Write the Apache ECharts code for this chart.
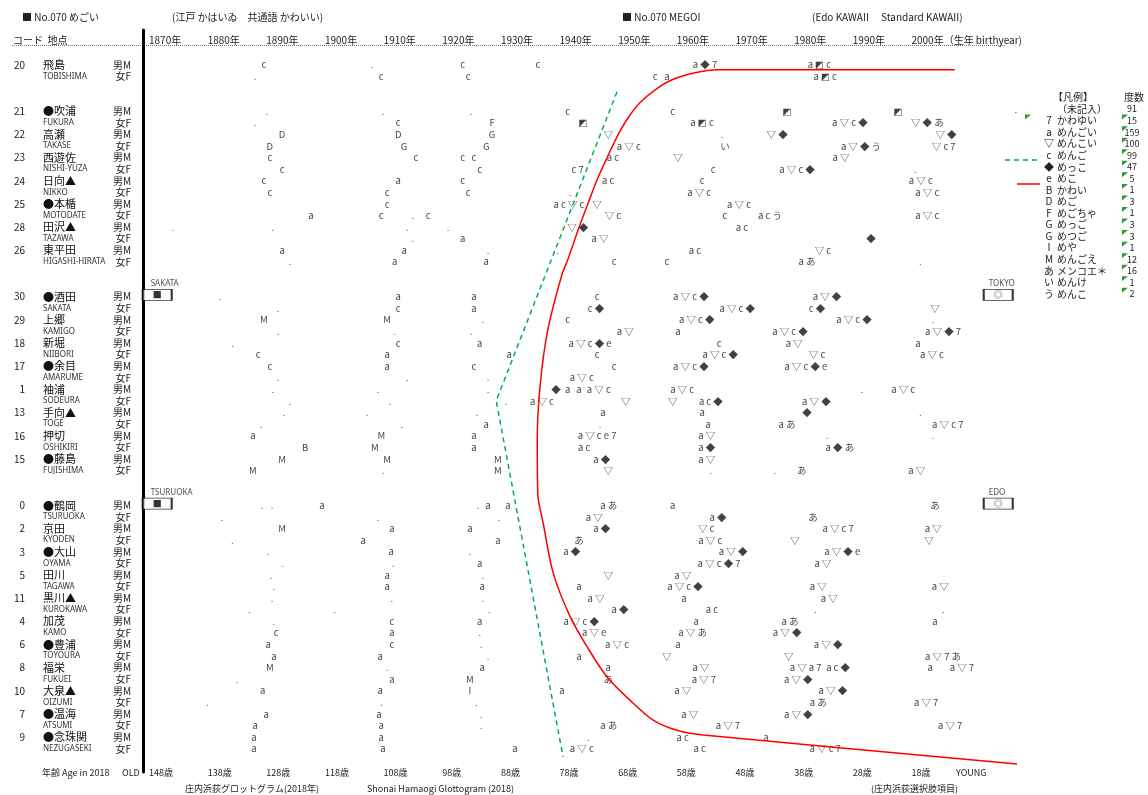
<!DOCTYPE html>
<html><head><meta charset="utf-8">
<script src="https://cdn.jsdelivr.net/npm/echarts@6/dist/echarts.min.js"></script>
<style>html,body{margin:0;padding:0;background:#fff}#c{width:1148px;height:795px}</style>
</head><body><div id="c"></div>
<script>
// ---------------- DATA ----------------
const siteCodes = [20,21,22,23,24,25,28,26,30,29,18,17,1,13,16,15,0,2,3,5,11,4,6,8,10,7,9];
const siteNames = ['飛島','●吹浦','高瀬','西遊佐','日向▲','●本楯','田沢▲','東平田','●酒田','上郷','新堀','●余目','袖浦','手向▲','押切','●藤島','●鶴岡','京田','●大山','田川','黒川▲','加茂','●豊浦','福栄','大泉▲','●温海','●念珠関'];
const siteRomaji = ['TOBISHIMA','FUKURA','TAKASE','NISHI-YUZA','NIKKO','MOTODATE','TAZAWA','HIGASHI-HIRATA','SAKATA','KAMIGO','NIIBORI','AMARUME','SODEURA','TOGE','OSHIKIRI','FUJISHIMA','TSURUOKA','KYODEN','OYAMA','TAGAWA','KUROKAWA','KAMO','TOYOURA','FUKUEI','OIZUMI','ATSUMI','NEZUGASEKI'];
const blockStarts = [21,30,0];           // sites that begin a new block
const sexLabels = {M:'男M', F:'女F'};
const yearTicks = [1870,1880,1890,1900,1910,1920,1930,1940,1950,1960,1970,1980,1990,2000];
const surveyYear = 2018;

// [site code, sex, birth year, answer symbols]
const responses = [
[20,'M',1889.6,'c'],[20,'M',1908.0,'.'],[20,'M',1923.5,'c'],[20,'M',1936.3,'c'],[20,'M',1964.8,'a◆7'],[20,'M',1984.3,'a◩c'],
[20,'F',1888.1,'.'],[20,'F',1909.6,'c'],[20,'F',1924.4,'c'],[20,'F',1956.3,'c'],[20,'F',1958.3,'a'],[20,'F',1985.3,'a◩c'],
[21,'M',1890.1,'.'],[21,'M',1909.9,'.'],[21,'M',1924.9,'.'],[21,'M',1941.4,'c'],[21,'M',1959.3,'c'],[21,'M',1978.8,'◩'],[21,'M',1997.7,'◩'],
[21,'F',1888.1,'.'],[21,'F',1912.5,'c'],[21,'F',1928.5,'F'],[21,'F',1944.0,'◩'],[21,'F',1964.3,'a◩c'],[21,'F',1989.5,'a▽c◆'],[21,'F',2002.7,'▽◆あ'],
[22,'M',1892.7,'D'],[22,'M',1912.5,'D'],[22,'M',1928.5,'G'],[22,'M',1948.3,'▽'],[22,'M',1967.7,'.'],[22,'M',1977.1,'▽◆'],[22,'M',2005.9,'▽◆'],
[22,'F',1890.6,'D'],[22,'F',1913.5,'G'],[22,'F',1927.5,'G'],[22,'F',1951.8,'a▽c'],[22,'F',1968.2,'い'],[22,'F',1991.4,'a▽◆う'],[22,'F',2005.5,'▽c7'],
[23,'M',1890.6,'c'],[23,'M',1915.5,'c'],[23,'M',1923.5,'c'],[23,'M',1925.4,'c'],[23,'M',1949.1,'ac'],[23,'M',1960.2,'▽'],[23,'M',1988.0,'a▽'],
[23,'F',1892.7,'c'],[23,'F',1926.4,'c'],[23,'F',1943.1,'c7'],[23,'F',1966.2,'c'],[23,'F',1980.5,'a▽c◆'],[23,'F',2000.6,'.'],
[24,'M',1889.6,'c'],[24,'M',1912.5,'a'],[24,'M',1923.5,'c'],[24,'M',1948.3,'ac'],[24,'M',1964.3,'c'],[24,'M',2001.6,'a▽c'],
[24,'F',1890.6,'c'],[24,'F',1910.6,'c'],[24,'F',1924.4,'c'],[24,'F',1941.8,'.'],[24,'F',1963.8,'a▽c'],[24,'F',2002.7,'a▽c'],
[25,'M',1910.6,'c'],[25,'M',1941.6,'ac▽c'],[25,'M',1946.4,'▽'],[25,'M',1970.6,'a▽c'],
[25,'F',1897.6,'a'],[25,'F',1909.6,'c'],[25,'F',1915.0,'.'],[25,'F',1917.6,'c'],[25,'F',1949.1,'▽c'],[25,'F',1968.2,'c'],[25,'F',1975.9,'acう'],[25,'F',2002.7,'a▽c'],
[28,'M',1874.1,'.'],[28,'M',1891.1,'.'],[28,'M',1914.0,'.'],[28,'M',1921.0,'.'],[28,'M',1943.1,'▽◆'],[28,'M',1971.1,'ac'],
[28,'F',1915.0,'.'],[28,'F',1923.5,'a'],[28,'F',1946.9,'a▽'],[28,'F',1993.1,'◆'],
[26,'M',1892.7,'a'],[26,'M',1913.5,'a'],[26,'M',1927.8,'.'],[26,'M',1939.7,'.'],[26,'M',1963.1,'ac'],[26,'M',1984.9,'▽c'],
[26,'F',1894.0,'.'],[26,'F',1911.9,'a'],[26,'F',1927.5,'a'],[26,'F',1949.3,'c'],[26,'F',1958.3,'c'],[26,'F',1982.2,'aあ'],[26,'F',2001.5,'.'],

[30,'M',1882.1,'.'],[30,'M',1912.5,'a'],[30,'M',1925.4,'a'],[30,'M',1946.4,'c'],[30,'M',1962.4,'a▽c◆'],[30,'M',1985.6,'a▽◆'],
[30,'F',1892.0,'.'],[30,'F',1912.5,'c'],[30,'F',1925.4,'a'],[30,'F',1946.2,'c◆'],[30,'F',1970.3,'a▽c◆'],[30,'F',1983.9,'c◆'],[30,'F',2004.0,'▽'],
[29,'M',1889.6,'M'],[29,'M',1910.6,'M'],[29,'M',1926.9,'.'],[29,'M',1941.4,'c'],[29,'M',1963.4,'a▽c◆'],[29,'M',1990.2,'a▽c◆'],[29,'M',2003.7,'.'],
[29,'F',1892.0,'.'],[29,'F',1911.9,'.'],[29,'F',1924.9,'.'],[29,'F',1951.2,'a▽'],[29,'F',1960.2,'a'],[29,'F',1979.3,'a▽c◆'],[29,'F',2005.4,'a▽◆7'],
[18,'M',1884.3,'.'],[18,'M',1912.5,'c'],[18,'M',1926.4,'a'],[18,'M',1945.2,'a▽c◆e'],[18,'M',1967.2,'c'],[18,'M',1980.0,'a▽'],[18,'M',2001.1,'a'],
[18,'F',1888.6,'c'],[18,'F',1910.6,'a'],[18,'F',1931.4,'a'],[18,'F',1946.4,'c'],[18,'F',1967.4,'a▽c◆'],[18,'F',1983.9,'▽c'],[18,'F',2003.5,'a▽c'],
[17,'M',1890.6,'c'],[17,'M',1910.6,'a'],[17,'M',1925.4,'c'],[17,'M',1949.3,'c'],[17,'M',1962.4,'a▽c◆'],[17,'M',1982.0,'a▽c◆e'],
[17,'F',1892.0,'.'],[17,'F',1914.0,'.'],[17,'F',1927.8,'.'],[17,'F',1943.8,'a▽c'],
[1,'M',1891.1,'.'],[1,'M',1909.0,'.'],[1,'M',1927.8,'.'],[1,'M',1939.4,'◆'],[1,'M',1941.4,'a'],[1,'M',1943.3,'a'],[1,'M',1946.7,'a▽c'],[1,'M',1960.9,'a▽c'],[1,'M',1991.6,'.'],[1,'M',1998.6,'a▽c'],
[1,'F',1894.0,'.'],[1,'F',1911.1,'.'],[1,'F',1930.9,'.'],[1,'F',1937.0,'a▽c'],[1,'F',1951.3,'▽'],[1,'F',1959.3,'▽'],[1,'F',1965.8,'ac◆'],[1,'F',1983.8,'a▽◆'],
[13,'M',1893.0,'.'],[13,'M',1907.2,'.'],[13,'M',1925.9,'.'],[13,'M',1947.4,'a'],[13,'M',1964.3,'a'],[13,'M',1982.2,'◆'],[13,'M',2001.5,'.'],
[13,'F',1889.1,'.'],[13,'F',1913.1,'.'],[13,'F',1927.5,'a'],[13,'F',1946.9,'.'],[13,'F',1965.3,'a'],[13,'F',1978.8,'aあ'],[13,'F',2006.2,'a▽c7'],
[16,'M',1887.7,'a'],[16,'M',1909.6,'M'],[16,'M',1925.4,'a'],[16,'M',1946.4,'a▽ce7'],[16,'M',1965.1,'a▽'],[16,'M',1985.6,'.'],[16,'M',2003.7,'.'],
[16,'F',1896.6,'B'],[16,'F',1908.5,'M'],[16,'F',1925.4,'a'],[16,'F',1944.2,'ac'],[16,'F',1965.1,'a◆'],[16,'F',1987.8,'a◆あ'],
[15,'M',1892.7,'M'],[15,'M',1910.6,'M'],[15,'M',1929.5,'M'],[15,'M',1947.2,'a◆'],[15,'M',1965.1,'a▽'],
[15,'F',1887.7,'M'],[15,'F',1909.9,'.'],[15,'F',1929.5,'M'],[15,'F',1948.3,'▽'],[15,'F',1965.8,'.'],[15,'F',1976.7,'.'],[15,'F',1981.3,'あ'],[15,'F',2000.9,'a▽'],

[0,'M',1889.3,'.'],[0,'M',1891.0,'.'],[0,'M',1899.5,'a'],[0,'M',1926.1,'.'],[0,'M',1927.8,'a'],[0,'M',1931.2,'a'],[0,'M',1948.4,'aあ'],[0,'M',1959.3,'a'],[0,'M',2004.0,'あ'],
[0,'F',1882.4,'.'],[0,'F',1909.0,'.'],[0,'F',1929.7,'.'],[0,'F',1945.9,'a▽'],[0,'F',1967.0,'a◆'],[0,'F',1983.2,'あ'],
[2,'M',1892.7,'M'],[2,'M',1911.4,'a'],[2,'M',1924.7,'a'],[2,'M',1947.2,'a◆'],[2,'M',1965.0,'▽c'],[2,'M',1987.5,'a▽c7'],[2,'M',2003.7,'a▽'],
[2,'F',1884.2,'.'],[2,'F',1906.5,'a'],[2,'F',1929.5,'a'],[2,'F',1943.3,'あ'],[2,'F',1965.7,'a▽c'],[2,'F',1980.1,'▽'],[2,'F',2003.0,'▽'],
[3,'M',1890.3,'.'],[3,'M',1911.3,'a'],[3,'M',1924.7,'.'],[3,'M',1942.1,'a◆'],[3,'M',1969.6,'a▽◆'],[3,'M',1988.2,'a▽◆e'],
[3,'F',1892.8,'.'],[3,'F',1911.6,'.'],[3,'F',1926.4,'a'],[3,'F',1967.2,'a▽c◆7'],[3,'F',1984.9,'a▽'],
[5,'M',1890.8,'.'],[5,'M',1910.6,'a'],[5,'M',1926.9,'.'],[5,'M',1948.3,'▽'],[5,'M',1961.0,'a▽'],
[5,'F',1891.3,'.'],[5,'F',1910.6,'a'],[5,'F',1926.8,'a'],[5,'F',1943.3,'a'],[5,'F',1961.4,'a▽c◆'],[5,'F',1984.1,'a▽'],[5,'F',2004.9,'a▽'],
[11,'M',1891.0,'.'],[11,'M',1911.4,'.'],[11,'M',1926.9,'.'],[11,'M',1946.2,'a▽'],[11,'M',1961.2,'a'],[11,'M',1986.0,'a▽'],
[11,'F',1887.1,'.'],[11,'F',1901.7,'.'],[11,'F',1928.0,'.'],[11,'F',1950.3,'a◆'],[11,'F',1966.0,'ac'],[11,'F',1983.6,'.'],[11,'F',2005.4,'.'],
[4,'M',1891.3,'.'],[4,'M',1911.4,'c'],[4,'M',1926.4,'a'],[4,'M',1943.7,'a▽c◆'],[4,'M',1963.3,'a'],[4,'M',1979.3,'aあ'],[4,'M',2004.0,'a'],
[4,'F',1891.7,'c'],[4,'F',1911.4,'a'],[4,'F',1926.4,'.'],[4,'F',1945.9,'a▽e'],[4,'F',1962.7,'a▽あ'],[4,'F',1978.8,'a▽◆'],
[6,'M',1890.3,'a'],[6,'M',1911.4,'c'],[6,'M',1926.6,'.'],[6,'M',1949.8,'a▽c'],[6,'M',1960.2,'a'],[6,'M',1985.8,'a▽◆'],
[6,'F',1891.3,'a'],[6,'F',1909.4,'a'],[6,'F',1927.8,'.'],[6,'F',1943.3,'a'],[6,'F',1958.3,'▽'],[6,'F',1979.1,'▽'],[6,'F',2005.4,'a▽7あ'],
[8,'M',1890.6,'M'],[8,'M',1910.6,'.'],[8,'M',1926.8,'a'],[8,'M',1948.3,'a'],[8,'M',1964.1,'a▽'],[8,'M',1980.7,'a▽'],[8,'M',1983.6,'a7'],[8,'M',1987.5,'ac◆'],[8,'M',2003.2,'a'],[8,'M',2008.6,'a▽7'],
[8,'F',1885.0,'.'],[8,'F',1911.4,'a'],[8,'F',1924.7,'M'],[8,'F',1948.3,'あ'],[8,'F',1964.6,'a▽7'],[8,'F',1980.7,'a▽◆'],
[10,'M',1889.4,'a'],[10,'M',1909.4,'a'],[10,'M',1924.7,'I'],[10,'M',1940.4,'a'],[10,'M',1961.0,'a▽'],[10,'M',1986.6,'a▽◆'],
[10,'F',1880.0,'.'],[10,'F',1909.6,'.'],[10,'F',1925.8,'.'],[10,'F',1984.1,'aあ'],[10,'F',2002.5,'a▽7'],
[7,'M',1890.0,'a'],[7,'M',1909.2,'a'],[7,'M',1926.6,'.'],[7,'M',1962.2,'a▽'],[7,'M',1980.7,'a▽◆'],
[7,'F',1888.1,'a'],[7,'F',1909.6,'a'],[7,'F',1926.6,'.'],[7,'F',1948.4,'aあ'],[7,'F',1968.7,'a▽7'],[7,'F',2006.6,'a▽7'],
[9,'M',1887.9,'a'],[9,'M',1909.6,'a'],[9,'M',1944.9,'.'],[9,'M',1961.0,'ac'],[9,'M',1975.2,'a'],
[9,'F',1887.9,'a'],[9,'F',1909.9,'a'],[9,'F',1932.4,'a'],[9,'F',1943.8,'a▽c'],[9,'F',1963.9,'ac'],[9,'F',1985.3,'a▽c7']
];

// isogloss lines: [birth year, row position]
const greenIsogloss = [[1949.8,2.33],[1929.2,28.98],[1940.6,59.69]];
const redIsogloss = [[2007.4,0.43],[1967.0,0.43],[1963.1,0.69],[1959.2,1.29],[1956.3,2.16],[1953.7,3.28],[1951.7,4.57],[1949.8,6.21],[1948.1,8.02],[1946.4,9.92],[1944.9,11.9],[1943.3,14.06],[1941.4,16.82],[1940.4,18.11],[1938.0,22.86],[1936.7,27.6],[1936.2,32.34],[1936.3,37.09],[1937.2,39.5],[1938.9,43.8],[1941.8,47.6],[1944.7,50.2],[1948.1,52.8],[1952.0,54.8],[1955.9,56.5],[1960.0,57.4],[1964.5,57.8],[2018,60.3]];

// reference boxes
const refNames = ['SAKATA','TSURUOKA','TOKYO','EDO'];
const refMarks = ['■','■','◎','◎'];
const refSites = [30,0,30,0];

// legend
const legendSymbols = ['.','7','a','▽','c','◆','e','B','D','F','G','G','I','M','あ','い','う'];
const legendNames = ['（未記入）','かわゆい','めんごい','めんこい','めんご','めっこ','めこ','かわい','めご','めごちゃ','めっご','めつご','めや','めんごえ','メンコエ＊','めんけ','めんこ'];
const legendCounts = [91,15,159,100,99,47,5,1,3,1,3,3,1,12,16,1,2];

// ---------------- LAYOUT ----------------
const FONT = '"Noto Sans CJK JP","DejaVu Sans",sans-serif';
const GAP = 2;
const slotOf = {};
const slotInfo = {};
(function(){
  let s = 0;
  siteCodes.forEach((c,i)=>{
    if (i>0 && blockStarts.includes(c)) s += GAP;
    slotOf[c] = {M:s, F:s+1};
    slotInfo[s]   = {code:String(c), name:siteNames[i], sex:'M'};
    slotInfo[s+1] = {code:'', name:siteRomaji[i], sex:'F'};
    s += 2;
  });
})();

const spaced = t => Array.from(t).join(' ');
const respData = responses.map(r => [r[2], slotOf[r[0]][r[1]], r[3]]);

const refBoxX = [1871.4,1871.4,2014.8,2014.8];
const refTextX = [1870.2,1870.2,2013.1,2013.1];
const boxData = refNames.map((n,i)=>[refBoxX[i], slotOf[refSites[i]].M - 0.15, refMarks[i]]);
const boxNameData = refNames.map((n,i)=>[refTextX[i], slotOf[refSites[i]].M - 1.1, n]);

const yBase = {type:'value', inverse:true, min:-3, max:61, interval:1, position:'left',
  axisTick:{show:false}, splitLine:{show:false}, axisLine:{show:false}};

// graphics (titles, captions, legend)
const graphics = [];
const T = (x,y,text,opt={}) => graphics.push({type:'text', x, y, silent:true,
  style:Object.assign({text, font:'10px '+FONT, fill:'#222', textVerticalAlign:'middle', textAlign:'left'}, opt)});
T(22,17,'■ No.070 めごい');
T(172,17,'(江戸 かはいゐ　共通語 かわいい)');
T(622,17,'■ No.070 MEGOI');
T(812,17,'(Edo KAWAII　 Standard KAWAII)');
T(13,40,'コード  地点');
graphics.push({type:'line', silent:true, shape:{x1:12,y1:45.5,x2:1006,y2:45.5}, style:{stroke:'#777', lineWidth:1, lineDash:[1,1]}});
T(42,773,'年齢 Age in 2018', {font:'9px '+FONT});
T(122,773,'OLD', {font:'9px '+FONT});
T(956,773,'YOUNG', {font:'9px '+FONT});
T(185,789,'庄内浜荻グロットグラム(2018年)', {font:'9px '+FONT});
T(367,789,'Shonai Hamaogi Glottogram (2018)', {font:'9px '+FONT});
T(871,789,'(庄内浜荻選択肢項目)', {font:'9px '+FONT});
const LY0 = 97.5, LDY = 11.55;
T(1053,LY0,'【凡例】');
T(1124,LY0,'度数');
legendSymbols.forEach((s,i)=>{
  const y = LY0 + LDY*(i+1);
  T(i===0?1016:1049, y, s, {textAlign:'center'});
  T(1057, y, legendNames[i]);
  T(1132, y, String(legendCounts[i]), {textAlign:'center', font:'9px '+FONT});
  if (i>0) graphics.push({type:'polygon', silent:true, shape:{points:[[1122,y-6],[1128,y-6],[1122,y-1]]}, style:{fill:'#2f9a3a'}});
});
graphics.push({type:'polygon', silent:true, shape:{points:[[1025,LY0+LDY*2-6],[1031,LY0+LDY*2-6],[1025,LY0+LDY*2-1]]}, style:{fill:'#2f9a3a'}});
graphics.push({type:'line', silent:true, shape:{x1:1005,y1:160,x2:1040,y2:160}, style:{stroke:'#00b050', lineWidth:1.5, lineDash:[5,4]}});
graphics.push({type:'line', silent:true, shape:{x1:1017,y1:184,x2:1040,y2:184}, style:{stroke:'#ff0000', lineWidth:1.5}});

const option = {
  animation:false,
  backgroundColor:'#fff',
  textStyle:{fontFamily:FONT},
  grid:{left:149, right:131, top:30, bottom:23},
  xAxis:[
    {type:'value', position:'top', min:1870, max:2018, interval:10,
     axisLine:{show:false}, axisTick:{show:false}, splitLine:{show:false},
     axisLabel:{inside:true, margin:10, align:'left', verticalAlign:'middle', fontSize:10, color:'#222', fontFamily:FONT,
       formatter:v => yearTicks.includes(v) ? (v===2000 ? '2000年（生年 birthyear)' : v+'年') : ''}},
    {type:'value', position:'bottom', min:1870, max:2018, interval:10,
     axisLine:{show:false}, axisTick:{show:false}, splitLine:{show:false},
     axisLabel:{margin:1, align:'left', verticalAlign:'middle', fontSize:9, color:'#222', fontFamily:FONT,
       formatter:v => yearTicks.includes(v) ? (surveyYear - v)+'歳' : ''}}
  ],
  yAxis:[
    Object.assign({}, yBase, {offset:6, axisLine:{show:true, lineStyle:{color:'#000', width:3}},
      axisLabel:{margin:12, fontSize:10, color:'#222', fontFamily:FONT,
        formatter:v => slotInfo[v] ? sexLabels[slotInfo[v].sex] : ''}}),
    Object.assign({}, yBase, {offset:124,
      axisLabel:{margin:0, align:'right', fontSize:10, color:'#222', fontFamily:FONT,
        formatter:v => slotInfo[v] ? slotInfo[v].code : ''}}),
    Object.assign({}, yBase, {offset:106,
      axisLabel:{margin:0, align:'left', color:'#222', fontFamily:FONT,
        formatter:v => slotInfo[v] ? (slotInfo[v].sex==='M' ? '{k|'+slotInfo[v].name+'}' : '{r|'+slotInfo[v].name+'}') : '',
        rich:{k:{fontSize:11, fontFamily:FONT, color:'#111'}, r:{fontSize:8, fontFamily:'"Noto Sans",sans-serif', color:'#333'}}}})
  ],
  series:[
    {type:'scatter', name:'responses', xAxisIndex:0, yAxisIndex:0, data:respData, symbolSize:1, silent:true, clip:false,
     itemStyle:{color:'rgba(0,0,0,0)'},
     labelLayout:{hideOverlap:false},
     label:{show:true, position:'inside', fontSize:9.5, color:'#111', fontFamily:FONT,
       formatter:p => spaced(p.data[2])}},
    {type:'line', name:'green', xAxisIndex:0, yAxisIndex:0, data:greenIsogloss, symbol:'none', silent:true,
     lineStyle:{color:'#00b050', width:1.5, type:[5,4]}},
    {type:'line', name:'red', xAxisIndex:0, yAxisIndex:0, data:redIsogloss, symbol:'none', silent:true, smooth:0.3,
     lineStyle:{color:'#ff0000', width:1.5}},
    {type:'scatter', name:'refbox', xAxisIndex:0, yAxisIndex:0, data:boxData, symbol:'rect', symbolSize:[29,11], silent:true, clip:false,
     itemStyle:{color:'#fff', borderColor:'#000', borderWidth:1.3},
     label:{show:true, position:'inside', fontSize:9, color:'#000', fontFamily:FONT, formatter:p=>p.data[2]}},
    {type:'scatter', name:'refname', xAxisIndex:0, yAxisIndex:0, data:boxNameData, symbolSize:1, silent:true, clip:false,
     itemStyle:{color:'rgba(0,0,0,0)'},
     label:{show:true, position:'right', distance:0, fontSize:8, color:'#222', fontFamily:'"Noto Sans",sans-serif', formatter:p=>p.data[2]}}
  ],
  graphic: graphics
};
const chart = echarts.init(document.getElementById('c'), null, {renderer:'canvas'});
chart.setOption(option);
</script>
</body></html>
